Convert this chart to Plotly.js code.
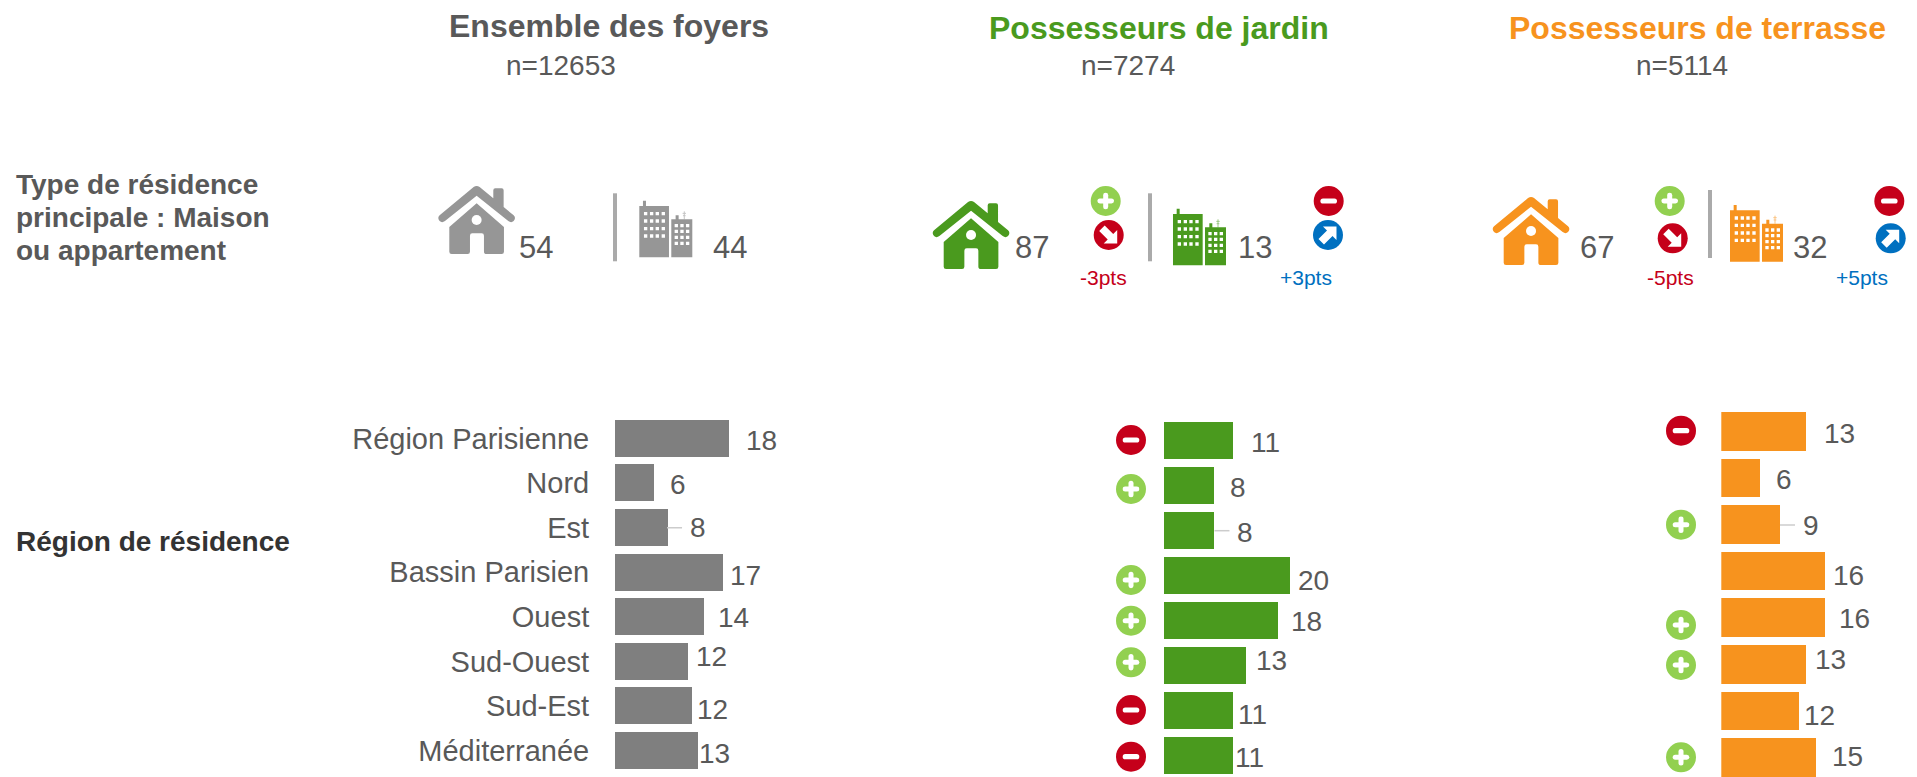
<!DOCTYPE html>
<html>
<head>
<meta charset="utf-8">
<script src="https://cdn.plot.ly/plotly-3.0.1.min.js"></script>
<style>html,body{margin:0;padding:0;background:#fff;overflow:hidden}#chart{width:1917px;height:777px}</style>
</head>
<body>
<div id="chart"></div>
<script>
// ---------- DATA ----------
const regions = ["Région Parisienne","Nord","Est","Bassin Parisien","Ouest","Sud-Ouest","Sud-Est","Méditerranée"];
const allValues = [18,6.2,8.3,17,14,11.6,12.2,13.1];
const allLabels = ["18","6","8","17","14","12","12","13"];
const gardenValues = [11,8,8,20,18,13,11,11];
const gardenLabels = ["11","8","8","20","18","13","11","11"];
const terraceValues = [13,6,9,16,16,13,12,14.5];
const terraceLabels = ["13","6","9","16","16","13","12","15"];
const gardenSigns = ["-","+","","+","+","+","-","-"];
const terraceSigns = ["-","","+","","+","+","","+"];
const panelTitles = ["Ensemble des foyers","Possesseurs de jardin","Possesseurs de terrasse"];
const panelCounts = ["n=12653","n=7274","n=5114"];
const houseShare = ["54","87","67"];
const flatShare = ["44","13","32"];
const houseDelta = ["","-3pts","-5pts"];
const flatDelta = ["","+3pts","+5pts"];
const leftLabelLines = ["Type de résidence","principale : Maison","ou appartement"];
const leftLabelRegion = "Région de résidence";

// ---------- STYLE / LAYOUT ----------
const W = 1917, H = 777;
const FONT = '"Liberation Sans", Arial, sans-serif';
const TXT = '#595959', RED = '#c5001a', LIME = '#92d050', BLUE = '#0070c0';
const panelColors = ['#7f7f7f','#4a9a1e','#f7931e'];
const iconColors = ['#969696','#4a9a1e','#f7931e'];
const titleColors = ['#595959','#4a9a1e','#f7931e'];

// bar-panel geometry in pixels
const panels = [
  {x0:614.5, unit:6.33, top:416.2, pitch:44.6, values:allValues, labels:allLabels,
   dx:[33,24,31,23,30,24,21,17], dy:[1.5,1,0,3,1,-5,3,3], signs:null, signX:0, signY:[]},
  {x0:1164, unit:6.31, top:418.2, pitch:45, values:gardenValues, labels:gardenLabels,
   dx:[32,24,31,23,29,25,19,16], dy:[1.3,1.8,1.5,4.5,1.2,-4.8,3.5,2.2],
   signs:gardenSigns, signX:1131, signY:[440,489,0,580,620.7,662.3,710,756.7]},
  {x0:1721.3, unit:6.52, top:408.4, pitch:46.6, values:terraceValues, labels:terraceLabels,
   dx:[33,24,31,23,29,24,20,32], dy:[2,0.7,1,4.2,0.7,-5.4,3.8,-1],
   signs:terraceSigns, signX:1681, signY:[430.7,0,524.7,0,625,665,0,757.3]}
];
const panelW = 190;

const px = x => (x / W).toFixed(5);
const py = y => (1 - y / H).toFixed(5);
const pt = (x, y) => px(x) + ' ' + py(y);

const shapes = [], annotations = [], traces = [];

function pathShape(d, fill, rule) {
  shapes.push({type:'path', xref:'paper', yref:'paper', path:d, fillcolor:fill,
    fillrule:rule || 'nonzero', line:{width:0}, layer:'above'});
}
function rectPx(x0,y0,x1,y1,fill) {
  shapes.push({type:'rect', xref:'paper', yref:'paper', x0:+px(x0), x1:+px(x1), y0:+py(y1), y1:+py(y0),
    fillcolor:fill, line:{width:0}, layer:'above'});
}
function circlePx(cx,cy,r,fill) {
  shapes.push({type:'circle', xref:'paper', yref:'paper', x0:+px(cx-r), x1:+px(cx+r), y0:+py(cy+r), y1:+py(cy-r),
    fillcolor:fill, line:{width:0}, layer:'above'});
}
function poly(points, ox, oy, s) {
  return 'M ' + points.map(p => pt(ox + p[0]*s, oy + p[1]*s)).join(' L ') + ' Z';
}
// rounded white bar glyph
function roundBar(x0,y0,x1,y1,fill) {
  const r = Math.min(x1-x0, y1-y0)/2;
  const d = 'M ' + pt(x0+r,y0) + ' L ' + pt(x1-r,y0) + ' Q ' + pt(x1,y0) + ' ' + pt(x1,y0+r) +
    ' L ' + pt(x1,y1-r) + ' Q ' + pt(x1,y1) + ' ' + pt(x1-r,y1) + ' L ' + pt(x0+r,y1) +
    ' Q ' + pt(x0,y1) + ' ' + pt(x0,y1-r) + ' L ' + pt(x0,y0+r) + ' Q ' + pt(x0,y0) + ' ' + pt(x0+r,y0) + ' Z';
  pathShape(d, fill);
}
function signIcon(kind, cx, cy) {
  if (kind === '+') {
    circlePx(cx,cy,15,LIME);
    roundBar(cx-8.3,cy-2.5,cx+8.3,cy+2.5,'#fff');
    roundBar(cx-2.5,cy-8.3,cx+2.5,cy+8.3,'#fff');
  } else if (kind === '-') {
    circlePx(cx,cy,15,RED);
    roundBar(cx-8.3,cy-2.6,cx+8.3,cy+2.6,'#fff');
  }
}
function arrowIcon(dir, cx, cy) {
  const f = dir === 'down' ? 1 : -1;
  circlePx(cx,cy,15, dir === 'down' ? RED : BLUE);
  const pts = [[8.5,8.5],[8.5,-5],[4.5,-1],[-4,-9.5],[-9.5,-4],[-1,4.5],[-5,8.5]];
  pathShape(poly(pts.map(p => [p[0], p[1]*f]), cx, cy, 1), '#fff');
}
function houseIcon(ox, oy, color) {
  const s = 1/3;
  const X = (a,b) => pt(ox + a*s, oy + b*s);
  const roof = 'M ' + X(106,4) + ' Q ' + X(115,-2) + ' ' + X(124,4) + ' L ' + X(165,38) + ' L ' + X(165,14) +
    ' Q ' + X(165,8) + ' ' + X(171,8) + ' L ' + X(190,8) + ' Q ' + X(196,8) + ' ' + X(196,14) + ' L ' + X(196,64) +
    ' L ' + X(226,89) + ' Q ' + X(234,97) + ' ' + X(226,106) + ' Q ' + X(219,113) + ' ' + X(210,106) +
    ' L ' + X(115,30) + ' L ' + X(20,106) + ' Q ' + X(11,113) + ' ' + X(4,106) + ' Q ' + X(-4,97) + ' ' + X(4,89) + ' Z';
  const body = 'M ' + X(115,53) + ' L ' + X(197,124) + ' L ' + X(197,198) + ' Q ' + X(197,205) + ' ' + X(190,205) +
    ' L ' + X(145,205) + ' Q ' + X(137,205) + ' ' + X(137,198) + ' L ' + X(137,150) + ' Q ' + X(137,143) + ' ' + X(130,143) +
    ' L ' + X(102,143) + ' Q ' + X(95,143) + ' ' + X(95,150) + ' L ' + X(95,198) + ' Q ' + X(95,205) + ' ' + X(88,205) +
    ' L ' + X(40,205) + ' Q ' + X(33,205) + ' ' + X(33,198) + ' L ' + X(33,124) + ' Z';
  pathShape(roof, color);
  pathShape(body, color);
  circlePx(ox + 115*s, oy + 103*s, 5, '#fff');
}
function buildingIcon(ox, oy, color) {
  const s = 1/3;
  const R = (a,b,c,d) => poly([[a,b],[c,b],[c,d],[a,d]], ox, oy, s);
  let big = R(0,16,89,170) + ' ' + R(11,0,20,16);
  [19,37,54,72].forEach(a => [39,61,84,106].forEach(b => { big += ' ' + R(a-5,b-5,a+5,b+5); }));
  pathShape(big, color, 'evenodd');
  let small = R(96,56,159,170) + ' ' + R(109,44,118,56);
  [111,128,145].forEach(a => [75,92,110,128].forEach(b => { small += ' ' + R(a-5,b-5,a+5,b+5); }));
  pathShape(small, color, 'evenodd');
  shapes.push({type:'path', xref:'paper', yref:'paper', layer:'above', opacity:0.55,
    path:'M ' + pt(ox+135*s,oy+56*s) + ' L ' + pt(ox+135*s,oy+32*s) + ' M ' + pt(ox+130*s,oy+38*s) + ' L ' + pt(ox+140*s,oy+38*s) + ' M ' + pt(ox+131*s,oy+45*s) + ' L ' + pt(ox+139*s,oy+45*s),
    line:{color:color,width:1}});
}
function label(text, x, y, size, color, bold, anchor) {
  annotations.push({xref:'paper', yref:'paper', x:+px(x), y:+py(y), text: bold ? '<b>'+text+'</b>' : text,
    showarrow:false, xanchor:anchor || 'center', yanchor:'middle',
    font:{family:FONT, size:size, color:color}, borderpad:0});
}

// ---------- BAR PANELS (library axes) ----------
const layout = {
  width:W, height:H, autosize:false, showlegend:false, bargap:0,
  margin:{l:0,r:0,t:0,b:0,pad:0}, paper_bgcolor:'#fff', plot_bgcolor:'rgba(0,0,0,0)',
  font:{family:FONT, color:TXT}
};
panels.forEach((p, i) => {
  const n = i === 0 ? '' : String(i+1);
  traces.push({type:'bar', orientation:'h', x:p.values, y:regions, width:0.83,
    xaxis:'x'+n, yaxis:'y'+n, marker:{color:panelColors[i], line:{width:0}},
    hoverinfo:'skip'});
  layout['xaxis'+n] = {domain:[p.x0/W,(p.x0+panelW)/W], range:[0,panelW/p.unit], visible:false, fixedrange:true, anchor:'y'+n};
  // the plot area stops at the page bottom, so the category range stops there too
  const bottom = Math.min(H, p.top + 8*p.pitch);
  layout['yaxis'+n] = {domain:[1-bottom/H, 1-p.top/H], type:'category', categoryorder:'array',
    categoryarray:regions, range:[(bottom-p.top)/p.pitch-0.5,-0.5], anchor:'x'+n, fixedrange:true, showgrid:false, zeroline:false,
    showline:false, ticks:i===0?'outside':'', ticklen:i===0?18.5:0, tickwidth:1, tickcolor:'rgba(0,0,0,0)',
    showticklabels:i===0, tickfont:{family:FONT,size:29,color:TXT}};
  p.values.forEach((v, k) => {
    annotations.push({xref:'x'+n, yref:'y'+n, x:v, y:regions[k], text:p.labels[k], showarrow:false,
      xanchor:'center', yanchor:'middle', xshift:p.dx[k], yshift:-p.dy[k], borderpad:0,
      font:{family:FONT,size:28,color:TXT}});
  });
  // leader line on the third bar
  const v3 = p.values[2];
  shapes.push({type:'line', xref:'x'+n, yref:'y'+n, x0:v3, x1:v3+15/p.unit, y0:regions[2], y1:regions[2],
    line:{color:'#cccccc',width:1.5}, layer:'above'});
  if (p.signs) p.signs.forEach((sg, k) => { if (sg) signIcon(sg, p.signX, p.signY[k]); });
});

// ---------- HEADERS ----------
const titleX = [609,1158.5,1697.5], titleY = [25.5,28,28];
const countX = [560.6,1128,1682], countY = [65.5,65.5,65.5];
panelTitles.forEach((t,i) => {
  label(t, titleX[i], titleY[i], 32, titleColors[i], true);
  label(panelCounts[i], countX[i], countY[i], 28, TXT, false);
});

// ---------- LEFT LABELS ----------
[184.6,217.6,250.6].forEach((y,i) => label(leftLabelLines[i], 15, y, 28, TXT, true, 'left'));
label(leftLabelRegion, 15, 541.6, 28, '#333333', true, 'left');

// ---------- RESIDENCE TYPE ROW ----------
const houseOrigin = [[438.3,185.7],[932.7,200.7],[1492.7,196.7]];
const buildOrigin = [[639.3,200.7],[1173,208.7],[1730,205]];
const dividerX = [615,1150,1710], dividerY = [193.3,193.3,190];
const houseValX = [536,1032,1596.7], flatValX = [730,1254.7,1810];
[0,1,2].forEach(i => {
  houseIcon(houseOrigin[i][0], houseOrigin[i][1], iconColors[i]);
  buildingIcon(buildOrigin[i][0], buildOrigin[i][1], iconColors[i]);
  rectPx(dividerX[i]-2, dividerY[i], dividerX[i]+2, dividerY[i]+68, '#aaaaaa');
  label(houseShare[i], houseValX[i], 247, 31, TXT, false);
  label(flatShare[i], flatValX[i], 247, 31, TXT, false);
});
signIcon('+',1105.7,201); arrowIcon('down',1108.7,235);
signIcon('-',1328.7,201); arrowIcon('up',1328,235);
signIcon('+',1669.7,201); arrowIcon('down',1672.7,238.3);
signIcon('-',1889.3,201); arrowIcon('up',1890.7,238.3);
label(houseDelta[1],1103.7,277,21,RED,false);
label(flatDelta[1],1306,277,21,BLUE,false);
label(houseDelta[2],1670.7,277,21,RED,false);
label(flatDelta[2],1861.7,277,21,BLUE,false);

layout.shapes = shapes;
layout.annotations = annotations;
Plotly.newPlot('chart', traces, layout, {displayModeBar:false, responsive:false});
</script>
</body>
</html>
